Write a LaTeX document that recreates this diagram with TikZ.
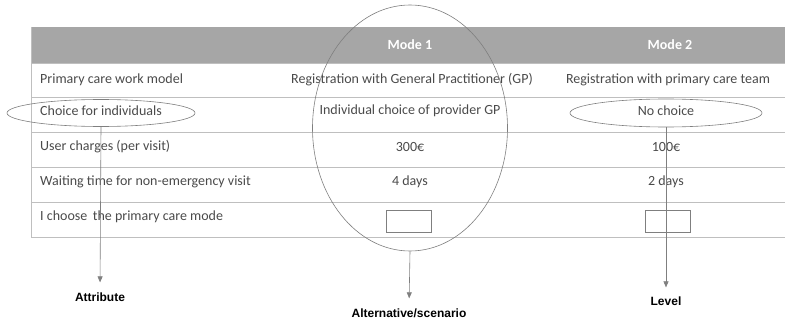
\documentclass[tikz,border=0pt]{standalone}
\usepackage{fontspec}
\setmainfont{Carlito}
\newfontfamily\labelfont{Liberation Sans}
\usetikzlibrary{shapes.geometric,arrows.meta}
\definecolor{headgray}{HTML}{A6A6A6}
\definecolor{rulegray}{HTML}{BFBFBF}
\definecolor{txtgray}{HTML}{4A4A4A}
\definecolor{markgray}{HTML}{7F7F7F}
\tikzset{
  cell/.style={font=\fontsize{14}{16}\selectfont, text=txtgray, inner sep=0pt},
  attrcell/.style={cell, anchor=west},
  head/.style={font=\fontsize{14}{16}\selectfont\bfseries, text=white, inner sep=0pt},
  rowline/.style={draw=rulegray, line width=0.8pt},
  tickbox/.style={draw=markgray, line width=0.6pt, minimum width=45pt, minimum height=22pt, inner sep=0pt},
  ring/.style={draw=markgray, line width=0.6pt, ellipse, inner sep=0pt},
  pointer/.style={draw=markgray, line width=0.6pt, -{Triangle[width=5pt,length=6pt]}},
  caption/.style={font=\labelfont\fontsize{12}{14}\selectfont\bfseries, text=black, inner sep=0pt}
}
\begin{document}
\begin{tikzpicture}[x=1pt,y=-1pt]
  \useasboundingbox (0,0) rectangle (785,321);
  % header band
  \fill[headgray] (31,27) rectangle (785,63);
  \node[head] (m1) at (410,45) {Mode 1};
  \node[head] (m2) at (670,45) {Mode 2};
  % row rules and left border
  \foreach \y in {63,97,132,167,202,237} \draw[rowline] (31,\y) -- (785,\y);
  \draw[rowline] (31,27) -- (31,237);
  % attribute column
  \node[attrcell] (a1) at (40,80) {Primary care work model};
  \node[attrcell] (a2) at (40,111) {Choice for individuals};
  \node[attrcell] (a3) at (40,147) {User charges (per visit)};
  \node[attrcell] (a4) at (40,182) {Waiting time for non-emergency visit};
  \node[attrcell] (a5) at (40,217) {I choose\, the primary care mode};
  % mode 1 column
  \node[cell] (b1) at (412,80) {Registration with General Practitioner (GP)};
  \node[cell] (b2) at (410,111) {Individual choice of provider GP};
  \node[cell] (b3) at (410,147) {300€};
  \node[cell] (b4) at (410,182) {4 days};
  \node[tickbox] (box1) at (408.5,221) {};
  % mode 2 column
  \node[cell] (c1) at (668,80) {Registration with primary care team};
  \node[cell] (c2) at (666,111) {No choice};
  \node[cell] (c3) at (666,147) {100€};
  \node[cell] (c4) at (666,182) {2 days};
  \node[tickbox] (box2) at (667.5,221) {};
  % highlight rings
  \node[ring, minimum width=188pt, minimum height=27pt] (attrRing) at (101,113) {};
  \node[ring, minimum width=195pt, minimum height=246pt] (altRing) at (410,128) {};
  \node[ring, minimum width=192pt, minimum height=28pt] (lvlRing) at (666,113) {};
  % captions
  \node[caption] (attrLbl) at (100,297) {Attribute};
  \node[caption] (altLbl) at (409,313) {Alternative/scenario};
  \node[caption] (lvlLbl) at (666,301) {Level};
  % pointers
  \draw[pointer, shorten >=10pt] (attrRing.south) -- (attrLbl.north);
  \draw[pointer, shorten >=10pt] (altRing.south) -- (altLbl.north);
  \draw[pointer, shorten >=9pt] (lvlRing.south) -- (lvlLbl.north);
\end{tikzpicture}
\end{document}
